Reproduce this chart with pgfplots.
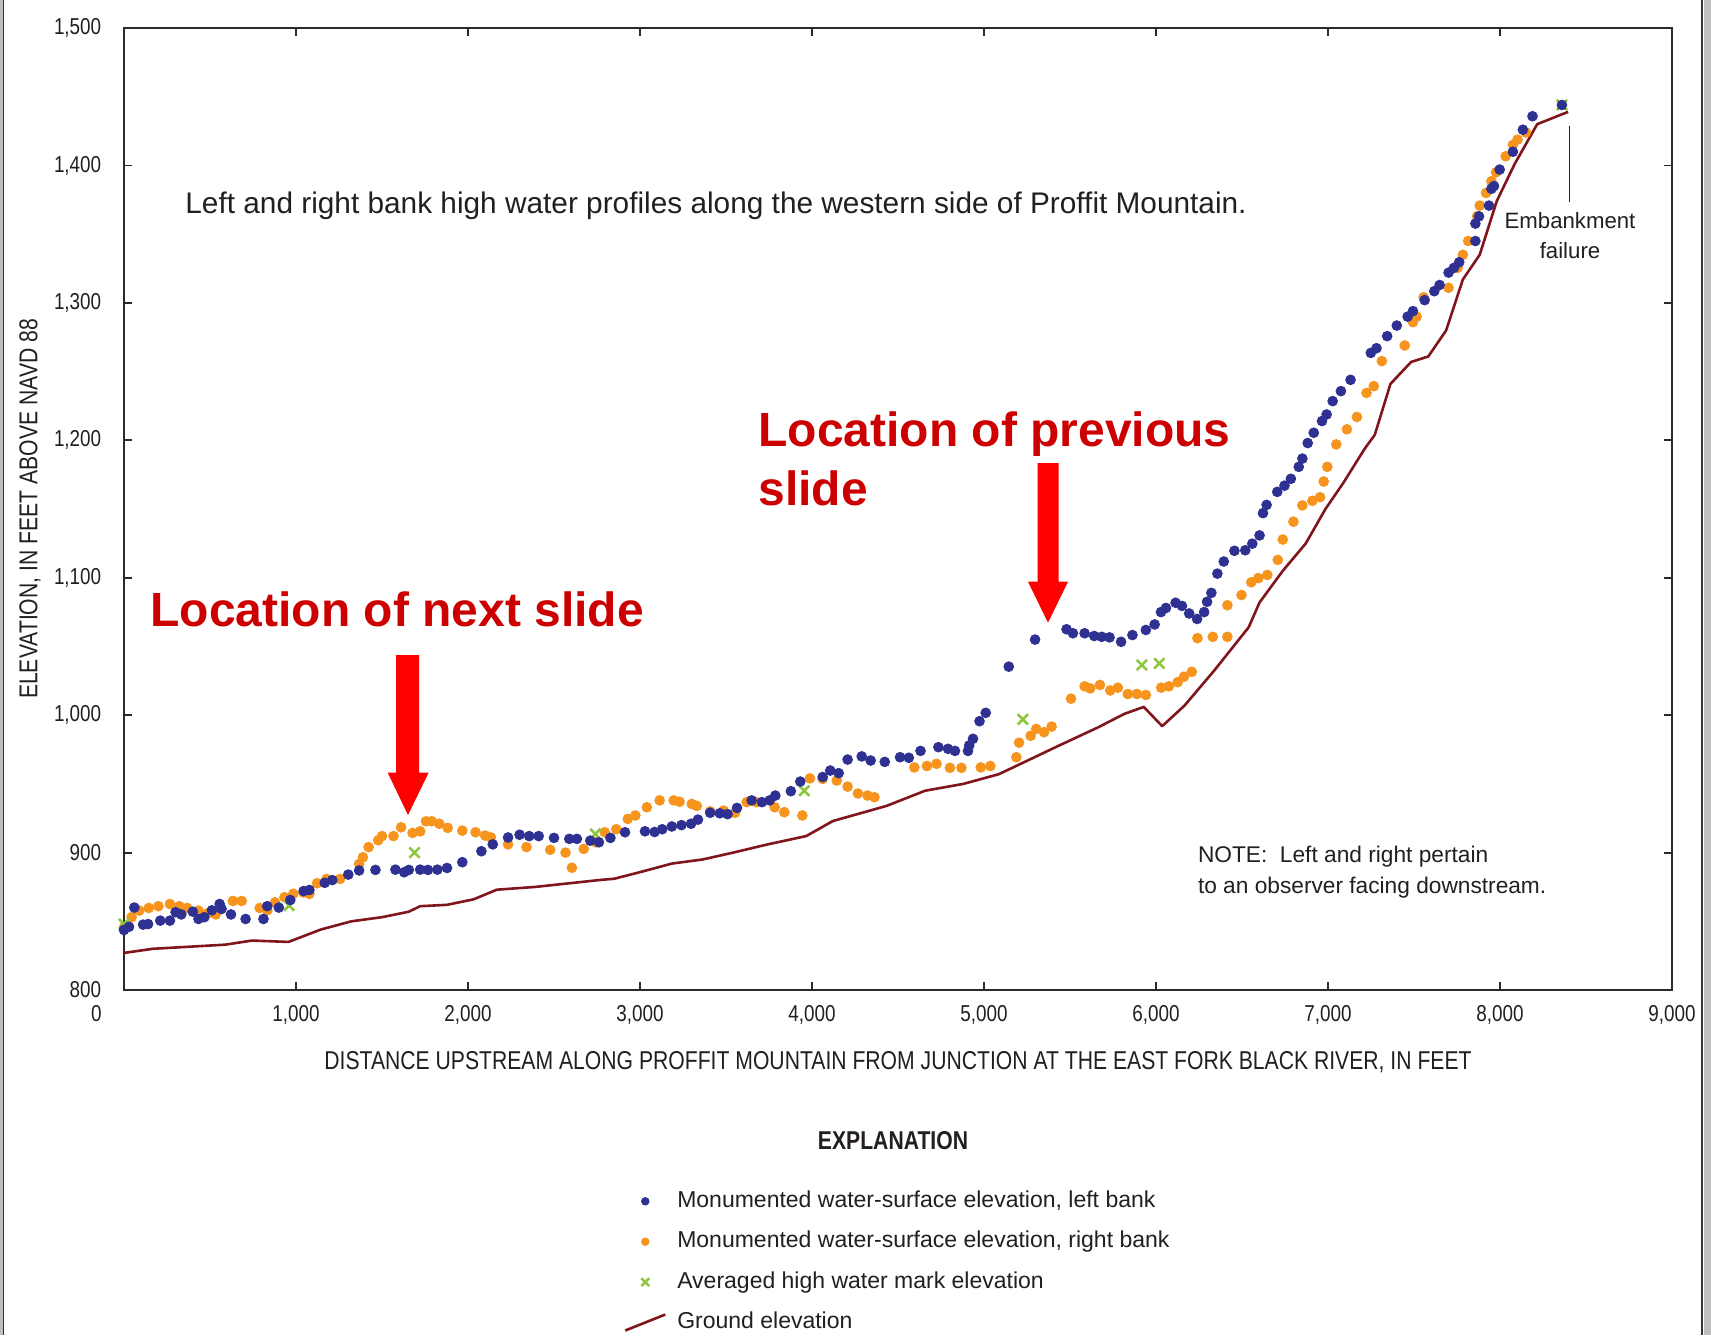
\documentclass[border=0pt]{standalone}
\usepackage{pgfplots}
\pgfplotsset{compat=1.18}
\usepackage{fontspec}
\setmainfont{Liberation Sans}
\newfontfamily\cond{Liberation Sans}[FakeStretch=0.82]

\definecolor{leftbank}{RGB}{46,49,146}
\definecolor{rightbank}{RGB}{247,148,29}
\definecolor{hwm}{RGB}{141,198,63}
\definecolor{ground}{RGB}{128,22,27}
\definecolor{axisgray}{RGB}{45,42,43}
\definecolor{txt}{RGB}{35,31,32}
\definecolor{slidered}{RGB}{204,0,0}

\pgfplotsset{
  dotlegend/.style={legend image code/.code={%
    \path[draw=none, fill=none] (-10pt,-5pt) rectangle (16pt,5pt);
    \draw[##1] plot coordinates {(0pt,0pt)};}},
  slantlegend/.style={legend image code/.code={%
    \path[draw=none, fill=none] (-10pt,-5pt) rectangle (16pt,5pt);
    \draw[##1] (-10pt,-4pt) -- (10pt,4pt);}},
}

\begin{document}
\begin{tikzpicture}
% page = 1711 x 1335 px, 1 px = 0.5pt
\useasboundingbox (0,0) rectangle (855.5pt,-667.5pt);
\fill[white] (0,0) rectangle (855.5pt,-667.5pt);

\begin{axis}[
  at={(62pt,-495pt)}, anchor=south west,
  scale only axis, width=774pt, height=481pt,
  xmin=0, xmax=9000, ymin=800, ymax=1500,
  axis line style={line width=1.3pt, color=axisgray},
  tick style={line width=0.9pt, color=axisgray},
  major tick length=4pt,
  tick align=inside,
  xtick={0,1000,...,9000},
  xticklabels={\makebox[0pt][r]{0\hspace{11.2pt}},{1,000},{2,000},{3,000},{4,000},{5,000},{6,000},{7,000},{8,000},{9,000}},
  ytick={800,900,...,1500},
  yticklabels={800,900,{1,000},{1,100},{1,200},{1,300},{1,400},{1,500}},
  tick label style={font=\cond\fontsize{11.5}{13}\selectfont, text=txt, inner sep=0pt},
  xticklabel style={anchor=north, yshift=-7.4pt},
  yticklabel style={anchor=east, xshift=-11.2pt},
  xlabel={DISTANCE UPSTREAM ALONG PROFFIT MOUNTAIN FROM JUNCTION AT THE EAST FORK BLACK RIVER, IN FEET},
  ylabel={ELEVATION, IN FEET ABOVE NAVD 88},
  label style={font=\cond\fontsize{12.9}{15}\selectfont, text=txt, inner sep=0pt},
  xlabel style={at={(axis description cs:0.5,-0.0745)}, anchor=center},
  ylabel style={at={(axis description cs:-0.0607,0.5)}, anchor=center},
  clip=false,
  legend cell align=left,
  legend style={at={(axis description cs:0.323,-0.2082)}, anchor=north west,
    draw=none, fill=none, inner sep=0pt, outer sep=0pt,
    row sep=9.2pt, column sep=0pt,
    font=\fontsize{11.5}{13}\selectfont,
    nodes={inner sep=0pt, text height=8.5pt, text depth=2.5pt, text=txt}},
]

% ground elevation
\addplot[forget plot, color=ground, line width=1.3pt, line join=round] coordinates {
(0,827) (167,830) (589,833) (744,836) (956,835) (1144,844) (1322,850) (1500,853)
(1656,857) (1722,861) (1878,862) (2033,866) (2167,873) (2389,875) (2762,880)
(2851,881) (3007,886) (3185,892) (3364,895) (3542,900) (3743,906) (3966,912)
(4122,923) (4434,934) (4657,945) (4880,950) (5085,957) (5237,966) (5438,978)
(5661,991) (5817,1001) (5929,1006) (6036,992) (6166,1007) (6342,1033) (6539,1064)
(6602,1082) (6737,1105) (6871,1125) (6985,1150) (7089,1169) (7214,1194) (7272,1204)
(7363,1241) (7483,1257) (7583,1261) (7687,1280) (7784,1317) (7882,1335) (7981,1374)
(8085,1401) (8216,1430) (8396,1439)};

% right bank
\addplot[forget plot, only marks, mark=*, mark size=2.45pt, color=rightbank] coordinates {
(0,845.6) (44,853) (89,857.8) (144,859.7) (200,861) (267,862.6) (322,861) (367,859.7)
(433,857.8) (489,856) (533,855) (633,864.8) (684,864.8) (789,859.7) (833,858) (878,863.8)
(933,867.5) (984,870) (1044,871) (1078,870) (1122,877.7) (1178,880.8) (1256,880.8)
(1367,891.7) (1389,896.6) (1422,904) (1478,909) (1500,912) (1567,912) (1611,918.4)
(1678,914.3) (1722,915.5) (1756,922.8) (1789,922.8) (1833,921) (1882,918) (1967,916)
(2044,914.8) (2100,912.4) (2133,911) (2233,906) (2340,904) (2478,902) (2567,900)
(2604,889) (2673,902.7) (2744,907.5) (2795,914.8) (2862,917) (2929,924.5) (2973,927)
(3040,933) (3114,938) (3196,938) (3230,937) (3301,935.4) (3330,934) (3408,930)
(3486,930.6) (3553,929) (3620,936.7) (3676,936.7) (3783,933) (3839,929.4) (3944,927)
(3988,954) (4062,953.6) (4144,952.4) (4207,948) (4267,943) (4323,941.5) (4363,940.3)
(4595,962) (4668,963) (4724,964.6) (4802,961.7) (4869,961.7) (4981,962) (5037,963)
(5188,969.4) (5204,980) (5271,985) (5304,990) (5349,987.6) (5393,991.7) (5506,1012)
(5585,1021) (5618,1019.5) (5674,1022) (5734,1018) (5778,1020) (5836,1015.4) (5889,1015.4)
(5941,1014.7) (6030,1020) (6075,1021) (6126,1024) (6163,1028) (6208,1031.6) (6241,1056)
(6330,1057) (6415,1057) (6415,1080) (6497,1087.4) (6554,1096.7) (6595,1099.7) (6647,1102)
(6708,1113) (6737,1127.8) (6799,1140.8) (6851,1152.6) (6909,1156) (6954,1158.6)
(6975,1170) (6996,1180.7) (7048,1197) (7110,1208) (7168,1217) (7224,1234.5) (7266,1239.4)
(7313,1257.6) (7446,1269) (7494,1286) (7515,1290) (7556,1304) (7701,1311) (7753,1325.5)
(7784,1335) (7815,1345) (7867,1363) (7882,1370.8) (7919,1380) (7950,1388.5) (7977,1395)
(8033,1406.7) (8075,1415) (8102,1418.8) (8151,1424)};

% averaged high water marks
\addplot[forget plot, only marks, mark=x, mark size=3.6pt, line width=1.3pt, color=hwm] coordinates {
(0,848) (960,861.4) (1689,900) (2740,913.6) (3955,945) (5226,997) (5918,1036.5)
(6019,1037.7) (8360,1444)};

% left bank
\addplot[forget plot, only marks, mark=*, mark size=2.45pt, color=leftbank] coordinates {
(0,843.7) (29,846) (60,860) (111,847.6) (140,848) (211,850.5) (267,850.5) (300,856.6)
(333,855) (400,857) (433,851.7) (467,853) (511,858) (556,862.6) (567,859) (622,855)
(707,851.7) (811,851.7) (833,861) (900,860) (967,865.5) (1044,872) (1078,872.8)
(1167,878) (1211,880) (1304,884) (1367,887) (1462,887.4) (1578,887.6) (1629,885.7)
(1656,887.4) (1722,887.6) (1767,887.4) (1822,887.6) (1878,888.8) (1967,893) (2078,901)
(2144,906) (2233,911) (2300,913) (2356,912) (2411,912) (2500,910.7) (2589,910)
(2633,910) (2711,908.7) (2761,907.5) (2828,910.7) (2913,914.8) (3029,915.5) (3085,915)
(3129,917) (3185,919) (3241,920) (3297,921) (3337,924) (3408,929) (3464,928.6)
(3509,928) (3564,932.5) (3649,938) (3709,936.7) (3754,938) (3787,941.5) (3877,944.7)
(3932,951.7) (4062,955) (4106,959.7) (4155,957.8) (4207,967.7) (4289,970) (4341,967)
(4423,966) (4512,969.4) (4563,969) (4631,974) (4735,976.7) (4791,975.5) (4831,974)
(4907,974) (4914,978) (4936,982.8) (4974,995.6) (5010,1001.7) (5144,1035.3) (5297,1055)
(5480,1062.5) (5517,1059.6) (5585,1059.6) (5641,1057.6) (5685,1057) (5730,1056.6)
(5797,1053.4) (5863,1058.3) (5941,1062) (5992,1066) (6029,1075) (6058,1078) (6114,1081.8)
(6151,1079.5) (6193,1074) (6239,1070) (6280,1075) (6297,1082.5) (6322,1089) (6357,1103)
(6394,1111.8) (6456,1119.6) (6519,1120) (6560,1124.8) (6602,1130.8) (6622,1147)
(6643,1153) (6705,1162.5) (6747,1167) (6784,1172) (6830,1180.7) (6851,1186.7) (6882,1198)
(6917,1205.5) (6965,1214) (6992,1218.8) (7027,1228.5) (7075,1235.8) (7131,1244)
(7249,1263.6) (7282,1267) (7344,1275.8) (7400,1283.5) (7463,1290) (7494,1294) (7562,1302)
(7618,1308.5) (7649,1313) (7701,1322) (7732,1325.5) (7763,1329.6) (7857,1345)
(7857,1357.7) (7878,1363) (7936,1370.8) (7950,1383) (7965,1385) (7998,1397) (8075,1410)
(8133,1426) (8189,1435.8) (8360,1444)};

% legend, in the order of the EXPLANATION block
\addlegendimage{dotlegend, only marks, mark=*, mark size=1.9pt, color=leftbank}
\addlegendentry{Monumented water-surface elevation, left bank}
\addlegendimage{dotlegend, only marks, mark=*, mark size=1.9pt, color=rightbank}
\addlegendentry{Monumented water-surface elevation, right bank}
\addlegendimage{dotlegend, only marks, mark=x, mark size=2.8pt, line width=1.2pt, color=hwm}
\addlegendentry{Averaged high water mark elevation}
\addlegendimage{slantlegend, color=ground, line width=1.3pt}
\addlegendentry{Ground elevation}
\end{axis}

% annotations, in pixel units of the 1711 x 1335 page (y downward)
\begin{scope}[x=0.5pt, y=-0.5pt]
  \fill[black!25] (0,0) rectangle (2.5,1335);
  \draw[black!80, line width=0.8pt] (3.5,0) -- (3.5,1335);
  \fill[black!25] (1703.5,0) rectangle (1711,1335);
  \draw[black!80, line width=1.3pt] (1702,0) -- (1702,1335);

  \node[anchor=base west, inner sep=0pt, text=txt, font=\fontsize{14.9}{18}\selectfont]
    at (185,213.7) {Left and right bank high water profiles along the western side of Proffit Mountain.};

  \draw[txt, line width=0.5pt] (1569,125.6) -- (1569,202);
  \node[anchor=base, inner sep=0pt, text=txt, font=\fontsize{11.1}{13}\selectfont] at (1570,228.3) {Embankment};
  \node[anchor=base, inner sep=0pt, text=txt, font=\fontsize{11.1}{13}\selectfont] at (1570,258.3) {failure};

  \node[anchor=base west, inner sep=0pt, text=txt, font=\fontsize{11.35}{13}\selectfont] at (1197.6,862.8) {NOTE:\ \ Left and right pertain};
  \node[anchor=base west, inner sep=0pt, text=txt, font=\fontsize{11.35}{13}\selectfont] at (1197.6,893.9) {to an observer facing downstream.};

  \node[anchor=base west, inner sep=0pt, text=slidered, font=\bfseries\fontsize{24}{29}\selectfont] at (758,446) {Location of previous};
  \node[anchor=base west, inner sep=0pt, text=slidered, font=\bfseries\fontsize{24}{29}\selectfont] at (758,505) {slide};
  \node[anchor=base west, inner sep=0pt, text=slidered, font=\bfseries\fontsize{24}{29}\selectfont] at (150,626) {Location of next slide};

  \fill[red] (1037.5,463) -- (1058.6,463) -- (1058.6,581.7) -- (1068,581.7) -- (1048,622.7)
             -- (1028,581.7) -- (1037.5,581.7) -- cycle;
  \fill[red] (396,655) -- (419,655) -- (419,772.7) -- (428.6,772.7) -- (408,815)
             -- (387.7,772.7) -- (396,772.7) -- cycle;

  \node[anchor=center, inner sep=0pt, text=txt, font=\cond\bfseries\fontsize{12.9}{15}\selectfont] at (893,1141) {EXPLANATION};
\end{scope}
\end{tikzpicture}
\end{document}
